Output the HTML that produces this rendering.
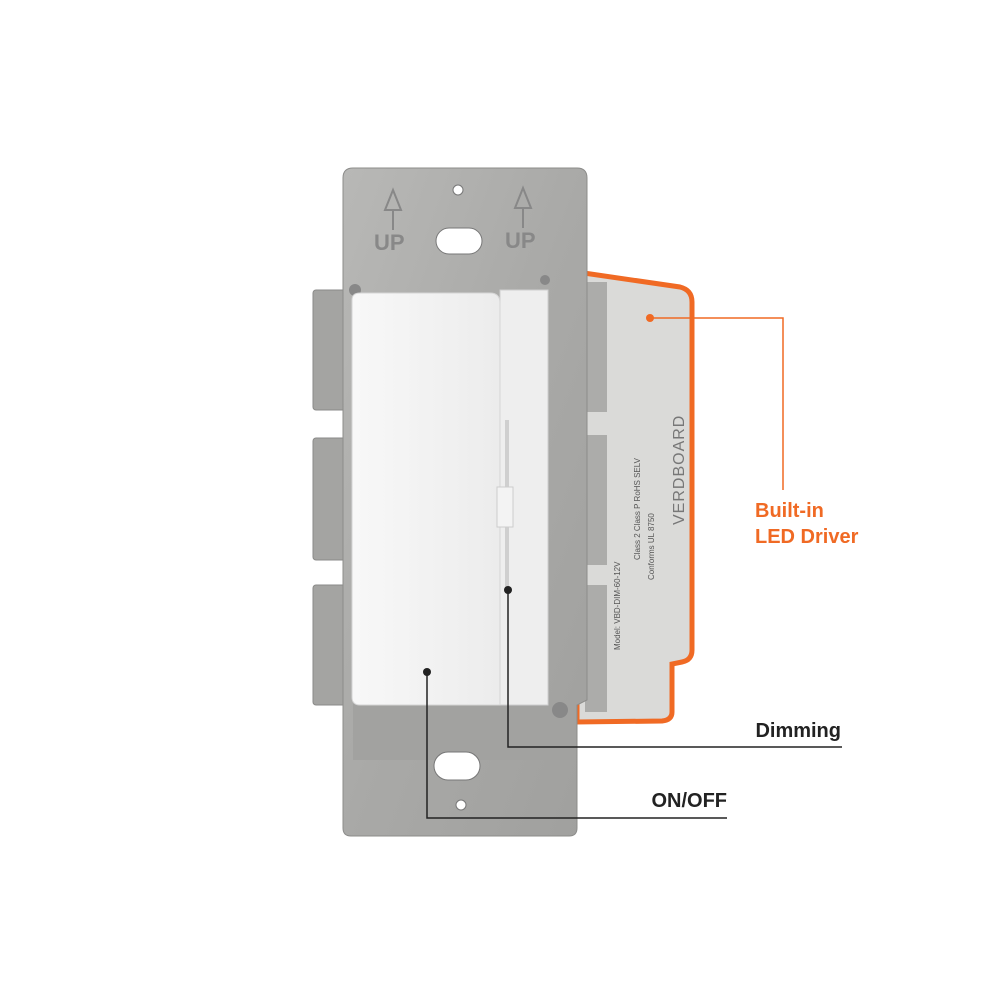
<!DOCTYPE html>
<html><head><meta charset="utf-8"><style>
html,body{margin:0;padding:0;background:#fff;}
svg{display:block}
</style></head><body>
<svg width="1000" height="1000" viewBox="0 0 1000 1000" xmlns="http://www.w3.org/2000/svg" font-family="Liberation Sans, sans-serif">
<defs>
<linearGradient id="metal" x1="0" y1="0" x2="1" y2="1">
<stop offset="0" stop-color="#b8b8b6"/><stop offset="0.5" stop-color="#a9a9a7"/><stop offset="1" stop-color="#a0a09e"/>
</linearGradient>
<linearGradient id="white" x1="0" y1="0" x2="1" y2="0">
<stop offset="0" stop-color="#f8f8f8"/><stop offset="1" stop-color="#ececec"/>
</linearGradient>
</defs>
<rect width="1000" height="1000" fill="#fff"/>
<!-- left tabs -->
<rect x="313" y="290" width="40" height="120" rx="3" fill="#a4a4a2" stroke="#8a8a88"/>
<rect x="313" y="438" width="40" height="122" rx="3" fill="#a4a4a2" stroke="#8a8a88"/>
<rect x="313" y="585" width="40" height="120" rx="3" fill="#a4a4a2" stroke="#8a8a88"/>
<!-- driver box -->
<path d="M577 272 L680 287 Q692 290 692 302 L692 650 Q692 660 682 662 L672 664 L672 712 Q672 720 662 721 L577 722 Z" fill="#dadad8" stroke="#f06a24" stroke-width="5"/>
<rect x="585" y="282" width="22" height="130" fill="#acacaa"/>
<rect x="585" y="435" width="22" height="130" fill="#acacaa"/>
<rect x="585" y="585" width="22" height="127" fill="#acacaa"/>
<!-- metal plate -->
<path d="M343 178 Q343 168 353 168 L577 168 Q587 168 587 178 L587 700 L577 705 L577 828 Q577 836 569 836 L351 836 Q343 836 343 828 Z" fill="url(#metal)" stroke="#8c8c8a"/>
<rect x="353" y="700" width="215" height="60" fill="#a2a2a0"/>
<!-- holes -->
<rect x="436" y="228" width="46" height="26" rx="13" fill="#fff" stroke="#777"/>
<rect x="434" y="752" width="46" height="28" rx="14" fill="#fff" stroke="#777"/>
<circle cx="458" cy="190" r="5" fill="#fff" stroke="#777"/>
<circle cx="461" cy="805" r="5" fill="#fff" stroke="#777"/>
<circle cx="355" cy="290" r="6" fill="#888"/>
<circle cx="560" cy="710" r="8" fill="#888"/>
<circle cx="545" cy="280" r="5" fill="#888"/>
<!-- UP marks -->
<g fill="#888" font-size="22" font-weight="bold">
<text x="374" y="250">UP</text><text x="505" y="248">UP</text>
</g>
<path d="M393 190 L385 210 L401 210 Z M393 210 V230" stroke="#888" stroke-width="2" fill="none"/>
<path d="M523 188 L515 208 L531 208 Z M523 208 V228" stroke="#888" stroke-width="2" fill="none"/>
<!-- white switch -->
<rect x="500" y="290" width="48" height="415" fill="#eeeeee" stroke="#cfcfcf"/>
<path d="M352 300 Q352 293 360 293 L490 293 Q500 293 500 303 L500 705 L360 705 Q352 705 352 697 Z" fill="url(#white)" stroke="#d5d5d5"/>
<rect x="505" y="420" width="4" height="170" fill="#cfcfcf"/>
<rect x="497" y="487" width="16" height="40" fill="#f3f3f3" stroke="#ccc"/>
<!-- driver text -->
<g fill="#555" font-size="8" transform="translate(640 520) rotate(-90)">
<text x="-40" y="0">Class 2  Class P  RoHS  SELV</text>
<text x="-60" y="14">Conforms UL 8750</text>
<text x="-130" y="-20">Model: VBD-DIM-60-12V</text>
</g>
<text x="0" y="0" transform="translate(684 525) rotate(-90)" font-size="16" fill="#777" letter-spacing="1">VERDBOARD</text>
<!-- callouts -->
<g fill="none" stroke-width="1.5">
<path d="M650 318 H783 V490" stroke="#f06a24"/>
<path d="M508 590 V747 H842" stroke="#222"/>
<path d="M427 672 V818 H727" stroke="#222"/>
</g>
<circle cx="650" cy="318" r="4" fill="#f06a24"/>
<circle cx="508" cy="590" r="4" fill="#222"/>
<circle cx="427" cy="672" r="4" fill="#222"/>
<g font-weight="bold" font-size="20">
<text x="755" y="517" fill="#f06a24">Built-in</text>
<text x="755" y="543" fill="#f06a24">LED Driver</text>
<text x="841" y="737" fill="#222" text-anchor="end">Dimming</text>
<text x="727" y="807" fill="#222" text-anchor="end">ON/OFF</text>
</g>
</svg>
</body></html>
